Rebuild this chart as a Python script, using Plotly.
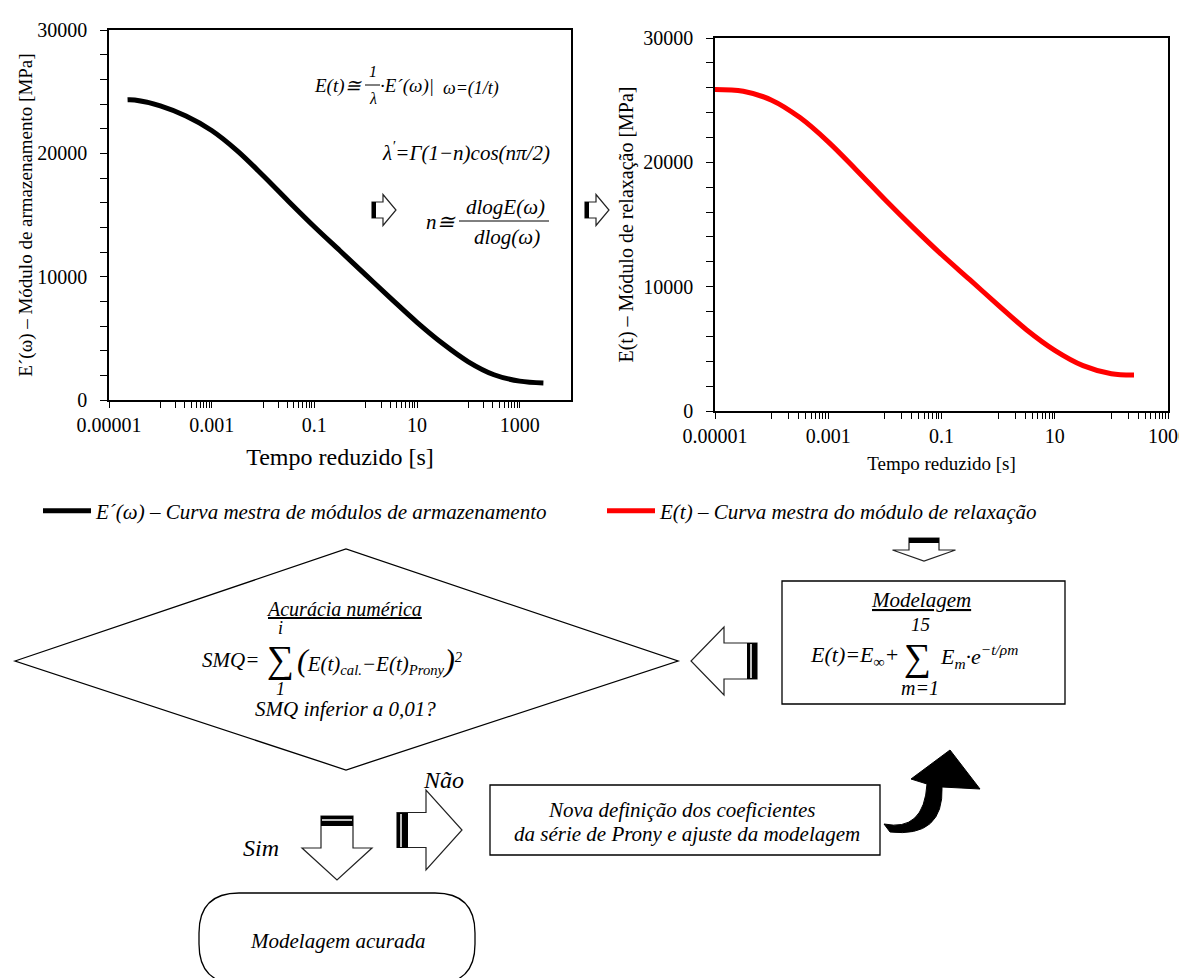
import plotly.graph_objects as go

# ---------------- data ----------------
t_storage = [2.3e-5, 3.16e-5, 1e-4, 3.16e-4, 1e-3, 3.16e-3, 1e-2, 3.16e-2, 0.1, 0.316, 1, 3.16, 10, 31.6, 100, 316, 1000, 2900]
E_storage = [24340, 24320, 23850, 23020, 21850, 20200, 18200, 16100, 14050, 12100, 10150, 8200, 6300, 4580, 3100, 2050, 1530, 1380]

t_relax = [1e-5, 3.16e-5, 1e-4, 3.16e-4, 1e-3, 3.16e-3, 1e-2, 3.16e-2, 0.1, 0.316, 1, 3.16, 10, 31.6, 100, 251]
E_relax = [25860, 25720, 25000, 23600, 21650, 19370, 17010, 14750, 12585, 10560, 8520, 6540, 4880, 3650, 3000, 2900]

tick_vals = [1e-5, 1e-3, 1e-1, 10, 1000]
tick_text = ["0.00001", "0.001", "0.1", "10", "1000"]
minor_vals = [m * 10 ** k for k in (-4, -2, 0, 2) for m in range(1, 10)]

name_storage = "E´(ω) – Curva mestra de módulos de armazenamento"
name_relax = "E(t) – Curva mestra do módulo de relaxação"

W, H = 1187, 978
FONT = "Liberation Serif"


def X(p):
    return p / W


def Y(p):
    return 1 - p / H


def path(pts):
    return "M " + " L ".join(f"{X(a):.5f},{Y(b):.5f}" for a, b in pts) + " Z"


fig = go.Figure()
fig.add_trace(go.Scatter(x=t_storage, y=E_storage, mode="lines", name=name_storage,
                         line=dict(color="black", width=5, shape="spline", smoothing=1.0),
                         xaxis="x", yaxis="y", legend="legend"))
fig.add_trace(go.Scatter(x=t_relax, y=E_relax, mode="lines", name=name_relax,
                         line=dict(color="#ff0000", width=5, shape="spline", smoothing=1.0),
                         xaxis="x2", yaxis="y2", legend="legend2"))

common_x = dict(type="log", tickvals=tick_vals, ticktext=tick_text, ticks="outside", ticklen=6,
                tickcolor="black", showline=True, linecolor="black", linewidth=1.5, mirror=True,
                showgrid=False, zeroline=False, automargin=False,
                tickfont=dict(family=FONT, size=20),
                minor=dict(tickvals=minor_vals, ticks="outside", ticklen=6, tickcolor="black", showgrid=False))
common_y = dict(range=[0, 30000], dtick=10000, tick0=0, tickformat="d", ticks="outside", ticklen=7,
                tickcolor="black", showline=True, linecolor="black", linewidth=1.5, mirror=True,
                showgrid=False, zeroline=False, automargin=False, ticklabelstandoff=9,
                tickfont=dict(family=FONT, size=20),
                minor=dict(dtick=2000, ticks="outside", ticklen=7, tickcolor="black", showgrid=False))

legend_common = dict(orientation="h", yanchor="middle", xanchor="left", itemwidth=48,
                     bgcolor="rgba(0,0,0,0)", borderwidth=0,
                     font=dict(family=FONT, size=21, style="italic"))

fig.update_layout(
    template="none",
    width=W, height=H, margin=dict(l=0, r=0, t=0, b=0, autoexpand=False),
    paper_bgcolor="white", plot_bgcolor="white",
    font=dict(family=FONT, color="black"),
    xaxis=dict(common_x, range=[-5, 4], domain=[X(101), X(563)], anchor="y",
               title=dict(text="Tempo reduzido [s]", font=dict(family=FONT, size=24), standoff=13)),
    yaxis=dict(common_y, domain=[Y(392), Y(22)], anchor="x",
               title=dict(text="E´(ω) – Módulo de armazenamento [MPa]", font=dict(family=FONT, size=19), standoff=0)),
    xaxis2=dict(common_x, range=[-5, 3], domain=[X(707), X(1160)], anchor="y2",
                title=dict(text="Tempo reduzido [s]", font=dict(family=FONT, size=19), standoff=11)),
    yaxis2=dict(common_y, domain=[Y(403), Y(30)], anchor="x2",
                title=dict(text="E(t) – Módulo de relaxação [MPa]", font=dict(family=FONT, size=20), standoff=4)),
    showlegend=True,
    legend=dict(legend_common, x=X(30), y=Y(503)),
    legend2=dict(legend_common, x=X(594), y=Y(503)),
)

shapes = []
LB = dict(color="black", width=1.3)


def shp(**kw):
    kw.setdefault("xref", "paper")
    kw.setdefault("yref", "paper")
    shapes.append(kw)


# diamond
shp(type="path", path=path([(7, 653), (338, 541), (670, 653), (338, 762)]), line=LB, fillcolor="white")
# boxes
shp(type="rect", x0=X(774), x1=X(1057), y0=Y(573), y1=Y(696), line=LB)
shp(type="rect", x0=X(482), x1=X(872), y0=Y(777), y1=Y(847), line=LB)
# rounded terminal box
r = 40
x0, x1, y0, y1 = 191, 467, 885, 976
rr = (f"M {X(x0 + r)},{Y(y0)} L {X(x1 - r)},{Y(y0)} Q {X(x1)},{Y(y0)} {X(x1)},{Y(y0 + r)} "
      f"L {X(x1)},{Y(y1 - r)} Q {X(x1)},{Y(y1)} {X(x1 - r)},{Y(y1)} L {X(x0 + r)},{Y(y1)} "
      f"Q {X(x0)},{Y(y1)} {X(x0)},{Y(y1 - r)} L {X(x0)},{Y(y0 + r)} Q {X(x0)},{Y(y0)} {X(x0 + r)},{Y(y0)} Z")
shp(type="path", path=rr, line=LB)


def h_arrow(xt, xb, xtip, yc, hs, hh):
    return path([(xt, yc - hs), (xb, yc - hs), (xb, yc - hh), (xtip, yc), (xb, yc + hh), (xb, yc + hs), (xt, yc + hs)])


def v_arrow(yt, yb, ytip, xc, hs, hh):
    return path([(xc - hs, yt), (xc - hs, yb), (xc - hh, yb), (xc, ytip), (xc + hh, yb), (xc + hs, yb), (xc + hs, yt)])


AL = dict(color="#222", width=1.2)
NOL = dict(width=0)
# small arrows in the top row
for xt in (364, 577):
    shp(type="path", path=h_arrow(xt, xt + 11, xt + 24, 202, 8, 15.5), line=AL, fillcolor="white")
    shp(type="rect", x0=X(xt), x1=X(xt + 4), y0=Y(194), y1=Y(210), line=NOL, fillcolor="black")
# down arrow above modelling box
shp(type="path", path=v_arrow(530, 542, 553, 916, 15, 31.5), line=AL, fillcolor="white")
shp(type="rect", x0=X(901), x1=X(931), y0=Y(530), y1=Y(535), line=NOL, fillcolor="black")
# left arrow between box and diamond
shp(type="path", path=h_arrow(749, 716, 683, 653, 18, 34), line=AL, fillcolor="white")
shp(type="rect", x0=X(739), x1=X(749), y0=Y(635), y1=Y(671), line=NOL, fillcolor="black")
shp(type="line", x0=X(743), x1=X(743), y0=Y(636), y1=Y(670), line=dict(color="white", width=1.5))
# "Não" arrow
shp(type="path", path=h_arrow(389, 418, 454, 822, 17.5, 40), line=AL, fillcolor="white")
shp(type="rect", x0=X(389), x1=X(400), y0=Y(805), y1=Y(840), line=NOL, fillcolor="black")
shp(type="line", x0=X(393), x1=X(393), y0=Y(806), y1=Y(839), line=dict(color="white", width=1.5))
# "Sim" arrow
shp(type="path", path=v_arrow(808, 840, 872, 329, 16, 35), line=AL, fillcolor="white")
shp(type="rect", x0=X(313), x1=X(345), y0=Y(808), y1=Y(818), line=NOL, fillcolor="black")
shp(type="line", x0=X(314), x1=X(344), y0=Y(812), y1=Y(812), line=dict(color="white", width=1.5))
# curved black arrow
curved = (f"M {X(876)},{Y(816)} Q {X(916)},{Y(824)} {X(919)},{Y(776)} L {X(903)},{Y(771)} "
          f"L {X(942)},{Y(742)} L {X(972)},{Y(781)} L {X(934)},{Y(779)} "
          f"Q {X(936)},{Y(830)} {X(882)},{Y(824)} Z")
shp(type="path", path=curved, line=dict(color="black", width=1), fillcolor="black")
# fraction bars
shp(type="line", x0=X(357), x1=X(372), y0=Y(77), y1=Y(77), line=dict(color="black", width=1))
shp(type="line", x0=X(451), x1=X(541), y0=Y(213), y1=Y(213), line=dict(color="black", width=1))

fig.update_layout(shapes=shapes)


def txt(x, y, s, size=18, anchor="center"):
    fig.add_annotation(x=X(x), y=Y(y), xref="paper", yref="paper", text=s, showarrow=False,
                       xanchor=anchor, yanchor="middle", font=dict(family=FONT, size=size, color="black"))


# formulas inside the first chart
txt(356, 78, "<i>E(t)≅</i>", 19, "right")
txt(365, 64, "<i>1</i>", 16)
txt(365, 90, "<i>λ</i>", 16)
txt(370, 78, "<i>·E´(ω)|</i>", 19, "left")
txt(433, 81, "<i>ω=(1/t)</i>", 18, "left")
txt(458, 143, "<i>λ<sup>′</sup>=Γ(1−n)cos(nπ/2)</i>", 21)
txt(450, 214, "<i>n≅</i>", 21, "right")
txt(498, 199, "<i>dlogE(ω)</i>", 21)
txt(499, 229, "<i>dlog(ω)</i>", 21)

# diamond texts
txt(336, 601, "<i><u>Acurácia numérica</u></i>", 20)
txt(272, 620, "<i>i</i>", 18)
txt(253, 652, "<i>SMQ=</i>", 21, "right")
txt(272, 651, "∑", 38)
txt(272, 681, "<i>1</i>", 18)
txt(287, 652, "<i><span style='font-size:32px'>(</span>E(t)<sub>cal.</sub>−E(t)<sub>Prony</sub>"
              "<span style='font-size:32px'>)</span><sup>2</sup></i>", 21, "left")
txt(337, 701, "<i>SMQ inferior a 0,01?</i>", 21)

# modelling box texts
txt(913, 592, "<i><u>Modelagem</u></i>", 21)
txt(912, 616, "<i>15</i>", 19)
txt(893, 648, "<i>E(t)=E<sub>∞</sub>+</i>", 22, "right")
txt(909, 649, "∑", 38)
txt(912, 680, "<i>m=1</i>", 20)
txt(930, 648, "<i>E<sub>m</sub>·e<sup>−t/ρm</sup></i>", 22, "left")

# lower flow
txt(435, 772, "<i>Não</i>", 24)
txt(253, 840, "<i>Sim</i>", 24)
txt(674, 802, "<i>Nova definição dos coeficientes</i>", 21)
txt(679, 826, "<i>da série de Prony e ajuste da modelagem</i>", 21)
txt(329, 933, "<i>Modelagem acurada</i>", 21)

fig.write_html("out.html")
